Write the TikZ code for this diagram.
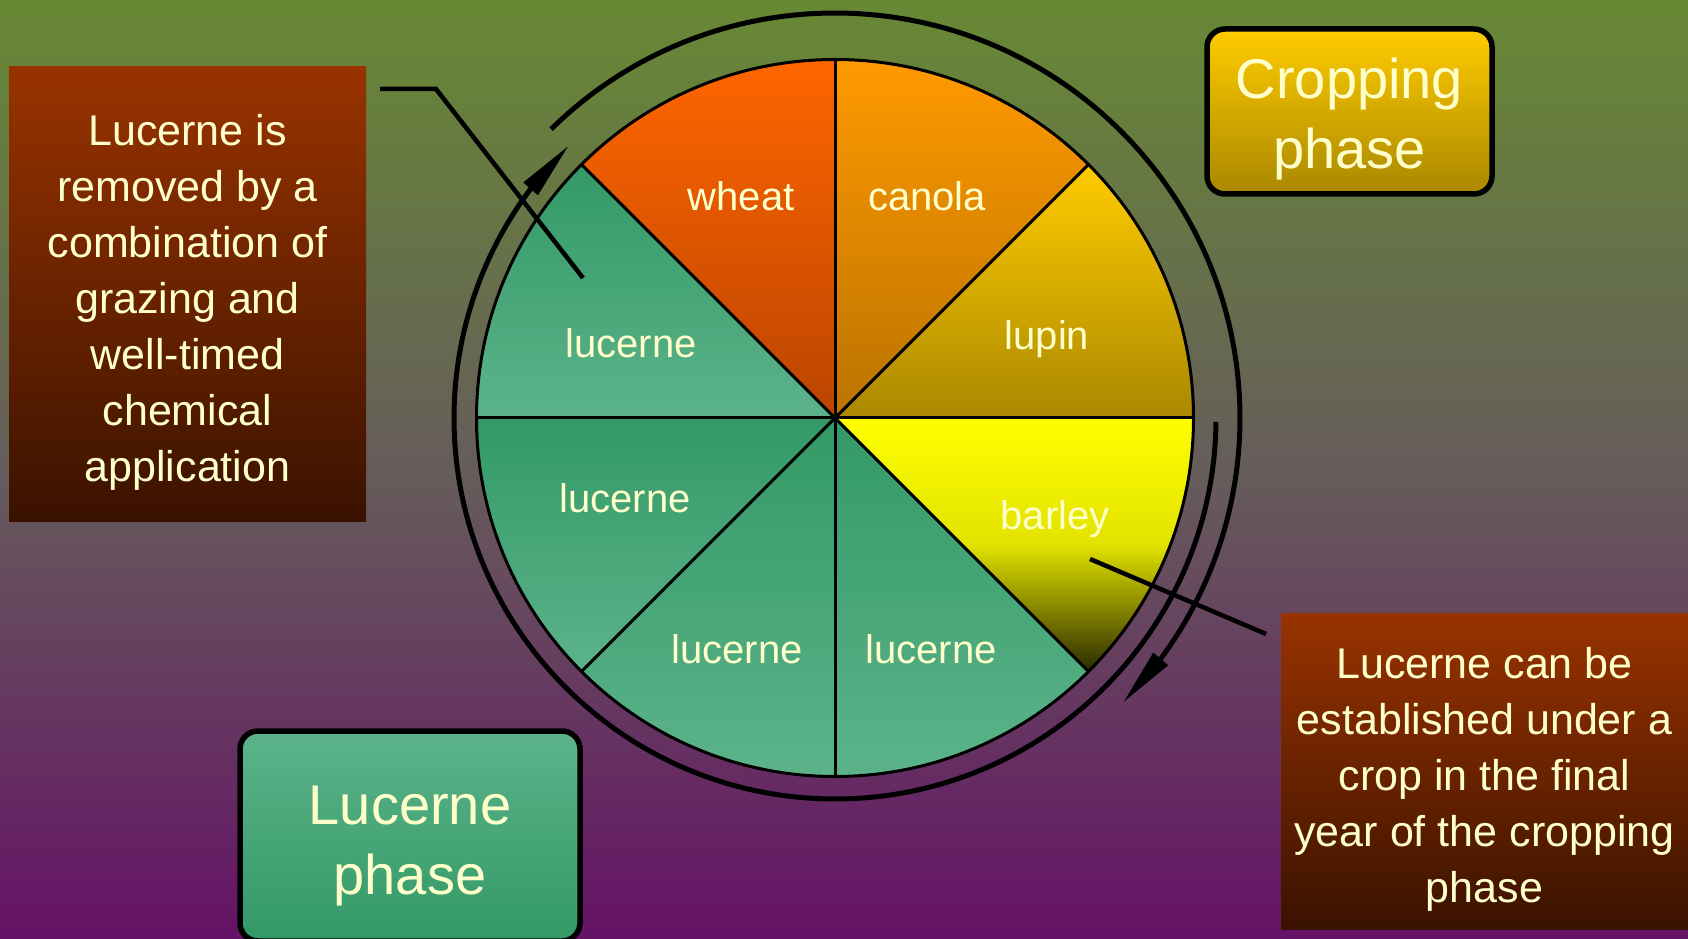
\documentclass[tikz,border=0pt]{standalone}
\usepackage{fontspec}
\setmainfont{Liberation Sans}
\usetikzlibrary{arrows.meta,bending}
\definecolor{txt}{HTML}{FFFFCC}
\definecolor{bgTop}{HTML}{678934}
\definecolor{bgMid}{HTML}{665D5B}
\definecolor{bgBot}{HTML}{651266}
\definecolor{wheatTop}{HTML}{FF6600}
\definecolor{wheatBot}{HTML}{BB4400}
\definecolor{canolaTop}{HTML}{FF9900}
\definecolor{canolaBot}{HTML}{BB7300}
\definecolor{lupinTop}{HTML}{FFCC00}
\definecolor{lupinBot}{HTML}{AA8800}
\definecolor{barleyTop}{HTML}{FFFF00}
\definecolor{barleyMid}{HTML}{E2E200}
\definecolor{barleyBot}{HTML}{2A2A00}
\definecolor{lucTop}{HTML}{339966}
\definecolor{lucBot}{HTML}{5CB38A}
\definecolor{noteTop}{HTML}{993300}
\definecolor{noteBot}{HTML}{3A1200}
\begin{document}
\begin{tikzpicture}[x=1pt,y=1pt,
  lbl/.style={text=txt, font=\fontsize{40}{48}\selectfont, text height=29pt, text depth=0pt, inner sep=0pt},
  divider/.style={line width=3pt, draw=black},
  phasearc/.style={line width=5pt, draw=black, -{Triangle[length=58pt,width=18pt]}},
  callout/.style={line width=4.5pt, draw=black, line join=miter},
  notebox/.style={top color=noteTop, bottom color=noteBot, text=txt, align=center, font=\fontsize{43}{56}\selectfont, inner sep=0pt},
  phasebox/.style={draw=black, line width=5.5pt, rounded corners=18pt, text=txt, align=center, font=\fontsize{56}{70}\selectfont, inner sep=0pt},
]
\clip (0,0) rectangle (1688,938);
\path[top color=bgTop, bottom color=bgBot, middle color=bgMid] (0,0) rectangle (1688,938);

\coordinate (C) at (835,520);
\def\R{358.5}
% sectors
\path[top color=wheatTop,bottom color=wheatBot] (C) -- ++(90:\R) arc[start angle=90,end angle=135,radius=\R] -- cycle;
\path[top color=canolaTop,bottom color=canolaBot] (C) -- ++(45:\R) arc[start angle=45,end angle=90,radius=\R] -- cycle;
\path[top color=lupinTop,bottom color=lupinBot] (C) -- ++(0:\R) arc[start angle=0,end angle=45,radius=\R] -- cycle;
\path[top color=barleyTop,bottom color=barleyBot,middle color=barleyMid] (C) -- ++(-45:\R) arc[start angle=-45,end angle=0,radius=\R] -- cycle;
\path[top color=lucTop,bottom color=lucBot] (C) -- ++(135:\R) arc[start angle=135,end angle=180,radius=\R] -- cycle;
\path[top color=lucTop,bottom color=lucBot] (C) -- ++(180:\R) arc[start angle=180,end angle=225,radius=\R] -- cycle;
\path[top color=lucTop,bottom color=lucBot] (C) -- ++(225:\R) arc[start angle=225,end angle=270,radius=\R] -- cycle;
\path[top color=lucTop,bottom color=lucBot] (C) -- ++(270:\R) arc[start angle=270,end angle=315,radius=\R] -- cycle;
\foreach \a in {0,45,...,315} \draw[divider] (C) -- ++(\a:\R);
\draw[line width=3pt] (C) circle[radius=\R];

% phase arcs
\draw[phasearc] ([shift={(134.5:405)}]C) arc[start angle=134.5,end angle=-44.7,radius=405];
\draw[phasearc] ([shift={(-0.6:381)}]C) arc[start angle=-0.6,end angle=-225.7,radius=381];

% labels
\node[lbl] (wheat) at (741,742) {wheat};
\node[lbl] (canola) at (927,742) {canola};
\node[lbl] (lupin) at (1047,603) {lupin};
\node[lbl] (barley) at (1055,423) {barley};
\node[lbl] (lucA) at (631,595) {lucerne};
\node[lbl] (lucB) at (625,440) {lucerne};
\node[lbl] (lucC) at (737,289) {lucerne};
\node[lbl] (lucD) at (931,289) {lucerne};

% callouts
\coordinate (lA) at (380,849);
\coordinate (lB) at (436,849);
\coordinate (lC) at (583,660);
\draw[callout] (lA) -- (lB) -- (lC);
\coordinate (rA) at (1090,379);
\coordinate (rB) at (1266,304);
\draw[callout] (rA) -- (rB);

% boxes
\node[notebox, minimum width=357pt, minimum height=454pt] (removeNote) at (187.5,644)
  {\rule{0pt}{47pt}Lucerne is\\removed by a\\combination of\\grazing and\\well-timed\\chemical\\application};
\node[notebox, minimum width=407pt, minimum height=316pt] (establishNote) at (1484.5,167)
  {\rule{0pt}{47pt}Lucerne can be\\established under a\\crop in the final\\year of the cropping\\phase};
\node[phasebox, top color=lupinTop, bottom color=lupinBot, minimum width=285pt, minimum height=165pt] (cropPhase) at (1349.5,826.5) {\rule{0pt}{56pt}Cropping\\phase};
\node[phasebox, top color=lucBot, bottom color=lucTop, minimum width=340pt, minimum height=210pt] (lucPhase) at (410,102) {\rule{0pt}{59pt}Lucerne\\phase};
\end{tikzpicture}
\end{document}
